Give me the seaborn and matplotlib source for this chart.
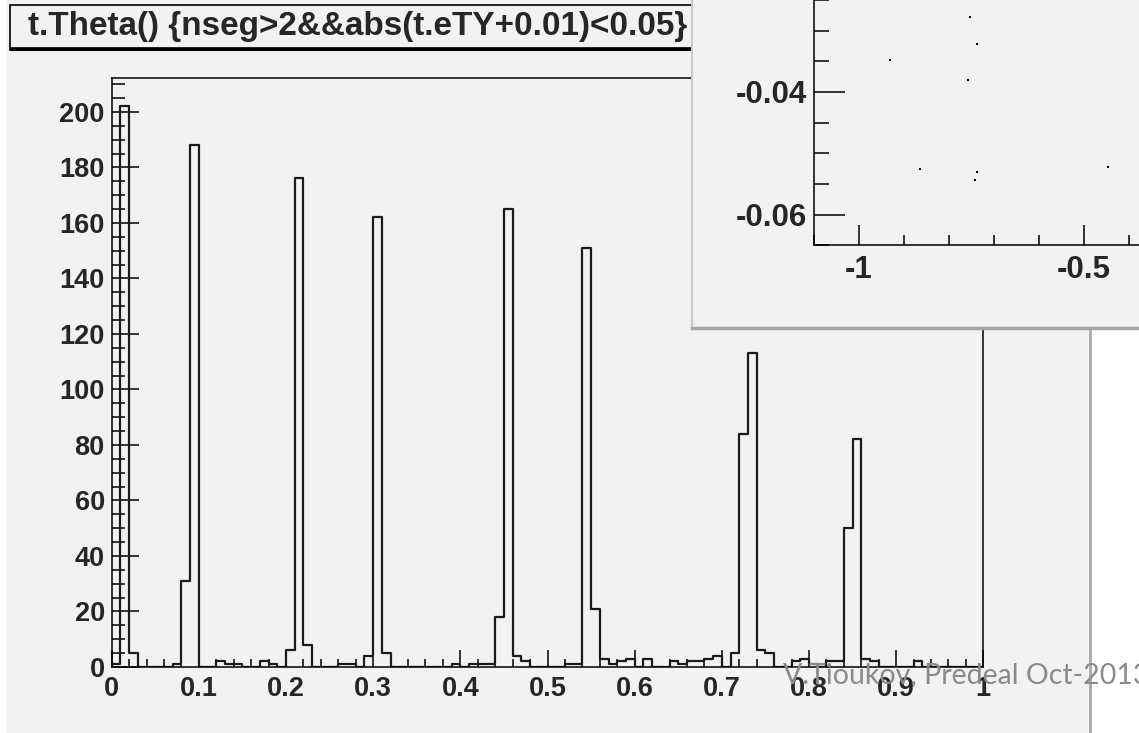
import numpy as np
import pandas as pd
import matplotlib
matplotlib.use("Agg")
import matplotlib.pyplot as plt
import seaborn as sns
from matplotlib.patches import Rectangle
from matplotlib.lines import Line2D

# histogram contents: 100 bins of 0.01 between 0 and 1
theta_counts = [
    1, 202, 5, 0, 0, 0, 0, 1, 31, 188,
    0, 0, 2, 1, 1, 0, 0, 2, 1, 0,
    6, 176, 8, 0, 0, 0, 1, 1, 0, 4,
    162, 5, 0, 0, 0, 0, 0, 0, 0, 1,
    0, 1, 1, 1, 18, 165, 4, 2, 0, 0,
    0, 0, 1, 1, 151, 21, 3, 1, 2, 3,
    0, 3, 0, 0, 2, 1, 2, 2, 3, 4,
    0, 5, 84, 113, 6, 5, 0, 0, 2, 3,
    1, 0, 2, 2, 50, 82, 3, 2, 0, 0,
    0, 0, 2, 0, 0, 0, 0, 0, 0, 0,
]
n_bins = 100
x_lo, x_hi = 0.0, 1.0

x_ticks = [0, 0.1, 0.2, 0.3, 0.4, 0.5, 0.6, 0.7, 0.8, 0.9, 1.0]
x_labels = ["0", "0.1", "0.2", "0.3", "0.4", "0.5", "0.6", "0.7", "0.8", "0.9", "1"]
y_ticks = [0, 20, 40, 60, 80, 100, 120, 140, 160, 180, 200]
y_labels = [str(v) for v in y_ticks]

# points of the scatter panel in the top right corner (partly hidden)
inset_x = [-0.931, -0.864, -0.757, -0.737, -0.753, -0.737, -0.742, -0.446]
inset_y = [-0.0348, -0.0526, -0.0380, -0.0322, -0.0278, -0.0531, -0.0543, -0.0522]
inset_xticks = [-1, -0.5]
inset_xlabels = ["-1", "-0.5"]
inset_yticks = [-0.06, -0.04]
inset_ylabels = ["-0.06", "-0.04"]

title = "t.Theta() {nseg>2&&abs(t.eTY+0.01)<0.05}"
footer = "V.Tioukov, Predeal Oct-2013"

W, H = 1139, 733
BG = "#f2f2f2"

sns.set_style("ticks")
plt.rcParams['font.family'] = ['Liberation Sans', 'DejaVu Sans']


def px_rect(l, t, r, b):
    return [l / W, 1 - b / H, (r - l) / W, (b - t) / H]


def blank(a):
    a.set_xticks([])
    a.set_yticks([])
    for s in a.spines.values():
        s.set_visible(False)


fig = plt.figure(figsize=(W / 100, H / 100), dpi=100)
fig.patch.set_facecolor("white")

# canvas
bg = fig.add_axes(px_rect(6, 0, 1090, 733), zorder=-2)
bg.set_facecolor(BG)
blank(bg)
bg.spines['right'].set_visible(True)
bg.spines['right'].set_color("#a9a9a9")
bg.spines['right'].set_linewidth(2)

# main histogram
ax = fig.add_axes(px_rect(111.7, 78.3, 983.3, 667), zorder=0)
ax.set_facecolor("none")
bin_w = (x_hi - x_lo) / n_bins
hist_df = pd.DataFrame({"theta": x_lo + bin_w * (np.arange(n_bins) + 0.5), "n": theta_counts})
sns.histplot(data=hist_df, x="theta", weights="n", bins=n_bins, binrange=(x_lo, x_hi),
             element="step", fill=False, color="#1a1a1a", linewidth=1.6, ax=ax)
ax.set_xlim(0, 1)
ax.set_ylim(0, 212.1)
ax.set_xlabel("")
ax.set_ylabel("")
ax.set_xticks(x_ticks)
ax.set_xticklabels(x_labels, fontweight="bold")
ax.set_xticks(np.arange(0, 1.001, 0.02), minor=True)
ax.set_yticks(y_ticks)
ax.set_yticklabels(y_labels, fontweight="bold")
ax.set_yticks(np.arange(0, 212, 5), minor=True)
for s in ax.spines.values():
    s.set_visible(True)
    s.set_linewidth(1.1)
    s.set_color("black")
ax.tick_params(axis="both", which="both", direction="in", top=False, right=False,
               color="black", width=1.1)
ax.tick_params(axis="y", which="major", length=19.4, pad=5, labelsize=19.5)
ax.tick_params(axis="y", which="minor", length=9.4)
ax.tick_params(axis="x", which="major", length=12.2, pad=6.5, labelsize=19.5)
ax.tick_params(axis="x", which="minor", length=5.8)

# title box
fig.add_artist(Rectangle((10 / W, 1 - 48 / H), 720 / W, 43 / H, transform=fig.transFigure,
                         fc=BG, ec="black", lw=1.2, zorder=1))
fig.add_artist(Line2D([10 / W, 730 / W], [1 - 49.3 / H] * 2, transform=fig.transFigure,
                      color="black", lw=2.2, zorder=1))
t_title = fig.text(28 / W, 1 - 35 / H, title, ha="left", va="baseline",
                   fontsize=22, fontweight="bold", zorder=1.5)

# panel of the second pad
panel = fig.add_axes(px_rect(692, -10, 1160, 328.5), zorder=2)
panel.set_facecolor(BG)
blank(panel)
panel.spines['left'].set_visible(True)
panel.spines['left'].set_color("#c8c8c8")
panel.spines['left'].set_linewidth(1.5)
panel.spines['bottom'].set_visible(True)
panel.spines['bottom'].set_color("#a6a6a6")
panel.spines['bottom'].set_linewidth(2.5)

axi = fig.add_axes(px_rect(814, -60, 1400, 245.3), zorder=3)
axi.set_facecolor("none")
sns.scatterplot(x=inset_x, y=inset_y, ax=axi, color="black", s=4, marker="s",
                linewidth=0, legend=False)
axi.set_xlim(-1.1, -1.1 + (1400 - 814) / 450)
axi.set_ylim(-0.065, -0.065 + (245.3 + 60) / 6135)
axi.set_xticks(inset_xticks)
axi.set_xticklabels(inset_xlabels, fontweight="bold")
axi.set_xticks(np.arange(-1.1, 0.2, 0.1), minor=True)
axi.set_yticks(inset_yticks)
axi.set_yticklabels(inset_ylabels, fontweight="bold")
axi.set_yticks(np.arange(-0.065, -0.015, 0.005), minor=True)
axi.spines['top'].set_visible(False)
axi.spines['right'].set_visible(False)
for s in ("left", "bottom"):
    axi.spines[s].set_linewidth(1.1)
    axi.spines[s].set_color("black")
axi.tick_params(axis="both", which="both", direction="in", color="black", width=1.1)
axi.tick_params(axis="y", which="major", length=22, pad=5, labelsize=22.5)
axi.tick_params(axis="y", which="minor", length=11)
axi.tick_params(axis="x", which="major", length=14.4, pad=7, labelsize=22.5)
axi.tick_params(axis="x", which="minor", length=7.2)

t_foot = fig.text(783 / W, 1 - 683 / H, footer, ha="left", va="baseline", color="#8a8a8a",
                  fontsize=19, family=["Lato", "DejaVu Sans"], zorder=6)

# fit the two free texts to their widths in the reference
fig.canvas.draw()
r = fig.canvas.get_renderer()
for t, target in ((t_title, 660), (t_foot, 366)):
    w = t.get_window_extent(renderer=r).width
    t.set_fontsize(t.get_fontsize() * target / w)

fig.savefig("out.png", dpi=100)
